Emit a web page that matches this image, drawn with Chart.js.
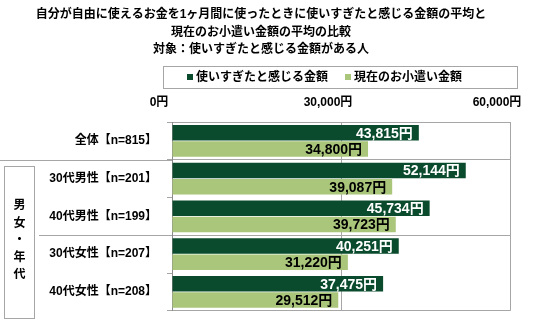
<!DOCTYPE html>
<html lang="ja">
<head>
<meta charset="utf-8">
<script src="https://cdn.jsdelivr.net/npm/chart.js@4.4.1/dist/chart.umd.min.js"></script>
<style>
  html, body { margin: 0; padding: 0; background: #fff; }
  #wrap { width: 550px; height: 328px; position: relative; }
</style>
</head>
<body>
<div id="wrap"><canvas id="grafik"></canvas></div>
<script>
// データ
const kategori = ['全体【n=815】', '30代男性【n=201】', '40代男性【n=199】', '30代女性【n=207】', '40代女性【n=208】'];
const tsukaisugi = [43815, 52144, 45734, 40251, 37475];
const okozukai = [34800, 39087, 39723, 31220, 29512];
const namaSeri = ['使いすぎたと感じる金額', '現在のお小遣い金額'];
const judul = ['自分が自由に使えるお金を1ヶ月間に使ったときに使いすぎたと感じる金額の平均と', '現在のお小遣い金額の平均の比較', '対象：使いすぎたと感じる金額がある人'];
const labelGrup = '男女・年代';
const skalaMaks = 60000;
const skalaLangkah = 30000;

const HIJAU_TUA = '#0A4B2D';
const HIJAU_MUDA = '#A9C67B';
const ABU = '#a6a6a6';
const FONT = '"Liberation Sans", Arial, "Noto Sans CJK JP", sans-serif';

const fmtYen = v => v.toLocaleString('en-US') + '円';

// Judul, legenda, garis pemisah tabel dan kotak "男女・年代"
const hiasan = {
  id: 'hiasan',
  afterDraw(chart) {
    const ctx = chart.ctx;
    const area = chart.chartArea;
    const ys = chart.scales.y;
    ctx.save();
    ctx.fillStyle = '#000';
    ctx.font = 'bold 12px ' + FONT;
    ctx.textAlign = 'center';
    ctx.textBaseline = 'middle';
    judul.forEach((t, i) => ctx.fillText(t, 261, 15 + i * 17.5));

    // legenda
    ctx.strokeStyle = ABU;
    ctx.lineWidth = 1;
    ctx.strokeRect(163.5, 66.5, 354, 22);
    const posLegenda = [187, 345];
    [HIJAU_TUA, HIJAU_MUDA].forEach((w, i) => {
      ctx.fillStyle = w;
      ctx.fillRect(posLegenda[i], 74, 6, 6);
      ctx.fillStyle = '#000';
      ctx.textAlign = 'left';
      ctx.fillText(namaSeri[i], posLegenda[i] + 9, 77.5);
    });

    // garis pemisah kategori
    const batas = i => (ys.getPixelForValue(i - 1) + ys.getPixelForValue(i)) / 2;
    ctx.strokeStyle = ABU;
    ctx.beginPath();
    const y1 = Math.round(batas(1)) + 0.5;
    ctx.moveTo(0, y1); ctx.lineTo(area.left, y1);
    const y3 = Math.round(batas(3)) + 0.5;
    ctx.moveTo(39, y3); ctx.lineTo(area.left, y3);
    ctx.stroke();

    // kotak grup
    ctx.strokeRect(4.5, 166.5, 30, 152);
    ctx.fillStyle = '#000';
    ctx.textAlign = 'center';
    const huruf = Array.from(labelGrup);
    huruf.forEach((h, i) => ctx.fillText(h, 19.5, 206 + i * 17.2));
    ctx.restore();
  }
};

// Label nilai di ujung batang
const labelNilai = {
  id: 'labelNilai',
  afterDatasetsDraw(chart) {
    const ctx = chart.ctx;
    ctx.save();
    ctx.font = 'bold 14px ' + FONT;
    ctx.textAlign = 'right';
    ctx.textBaseline = 'middle';
    chart.data.datasets.forEach((ds, di) => {
      const meta = chart.getDatasetMeta(di);
      meta.data.forEach((bar, i) => {
        ctx.fillStyle = di === 0 ? '#fff' : '#000';
        ctx.fillText(fmtYen(ds.data[i]), bar.x - 6, bar.y + 1);
      });
    });
    ctx.restore();
  }
};

new Chart(document.getElementById('grafik'), {
  type: 'bar',
  data: {
    labels: kategori,
    datasets: [
      { label: namaSeri[0], data: tsukaisugi, backgroundColor: HIJAU_TUA },
      { label: namaSeri[1], data: okozukai, backgroundColor: HIJAU_MUDA }
    ]
  },
  options: {
    indexAxis: 'y',
    responsive: true,
    maintainAspectRatio: false,
    animation: false,
    layout: { padding: { top: 0, left: 0, right: 40, bottom: 8 } },
    datasets: { bar: { categoryPercentage: 0.86, barPercentage: 0.96 } },
    plugins: {
      legend: { display: false },
      title: { display: false },
      tooltip: { enabled: false }
    },
    scales: {
      x: {
        position: 'top',
        min: 0,
        max: skalaMaks,
        afterFit: s => { s.height = 122; },
        ticks: {
          stepSize: skalaLangkah,
          padding: 12,
          labelOffset: -13,
          color: '#000',
          font: { family: FONT, size: 12, weight: 'bold' },
          callback: v => fmtYen(v)
        },
        grid: { color: ABU, drawTicks: false },
        border: { color: ABU }
      },
      y: {
        afterFit: s => { s.width = 172; },
        ticks: {
          padding: 10,
          color: '#000',
          font: { family: FONT, size: 12, weight: 'bold' }
        },
        grid: {
          offset: true,
          tickLength: 5,
          tickColor: ABU,
          color: c => (c.index === 2 || c.index === 4) ? 'rgba(0,0,0,0)' : ABU
        },
        border: { color: '#8c8c8c' }
      }
    }
  },
  plugins: [hiasan, labelNilai]
});
</script>
</body>
</html>
